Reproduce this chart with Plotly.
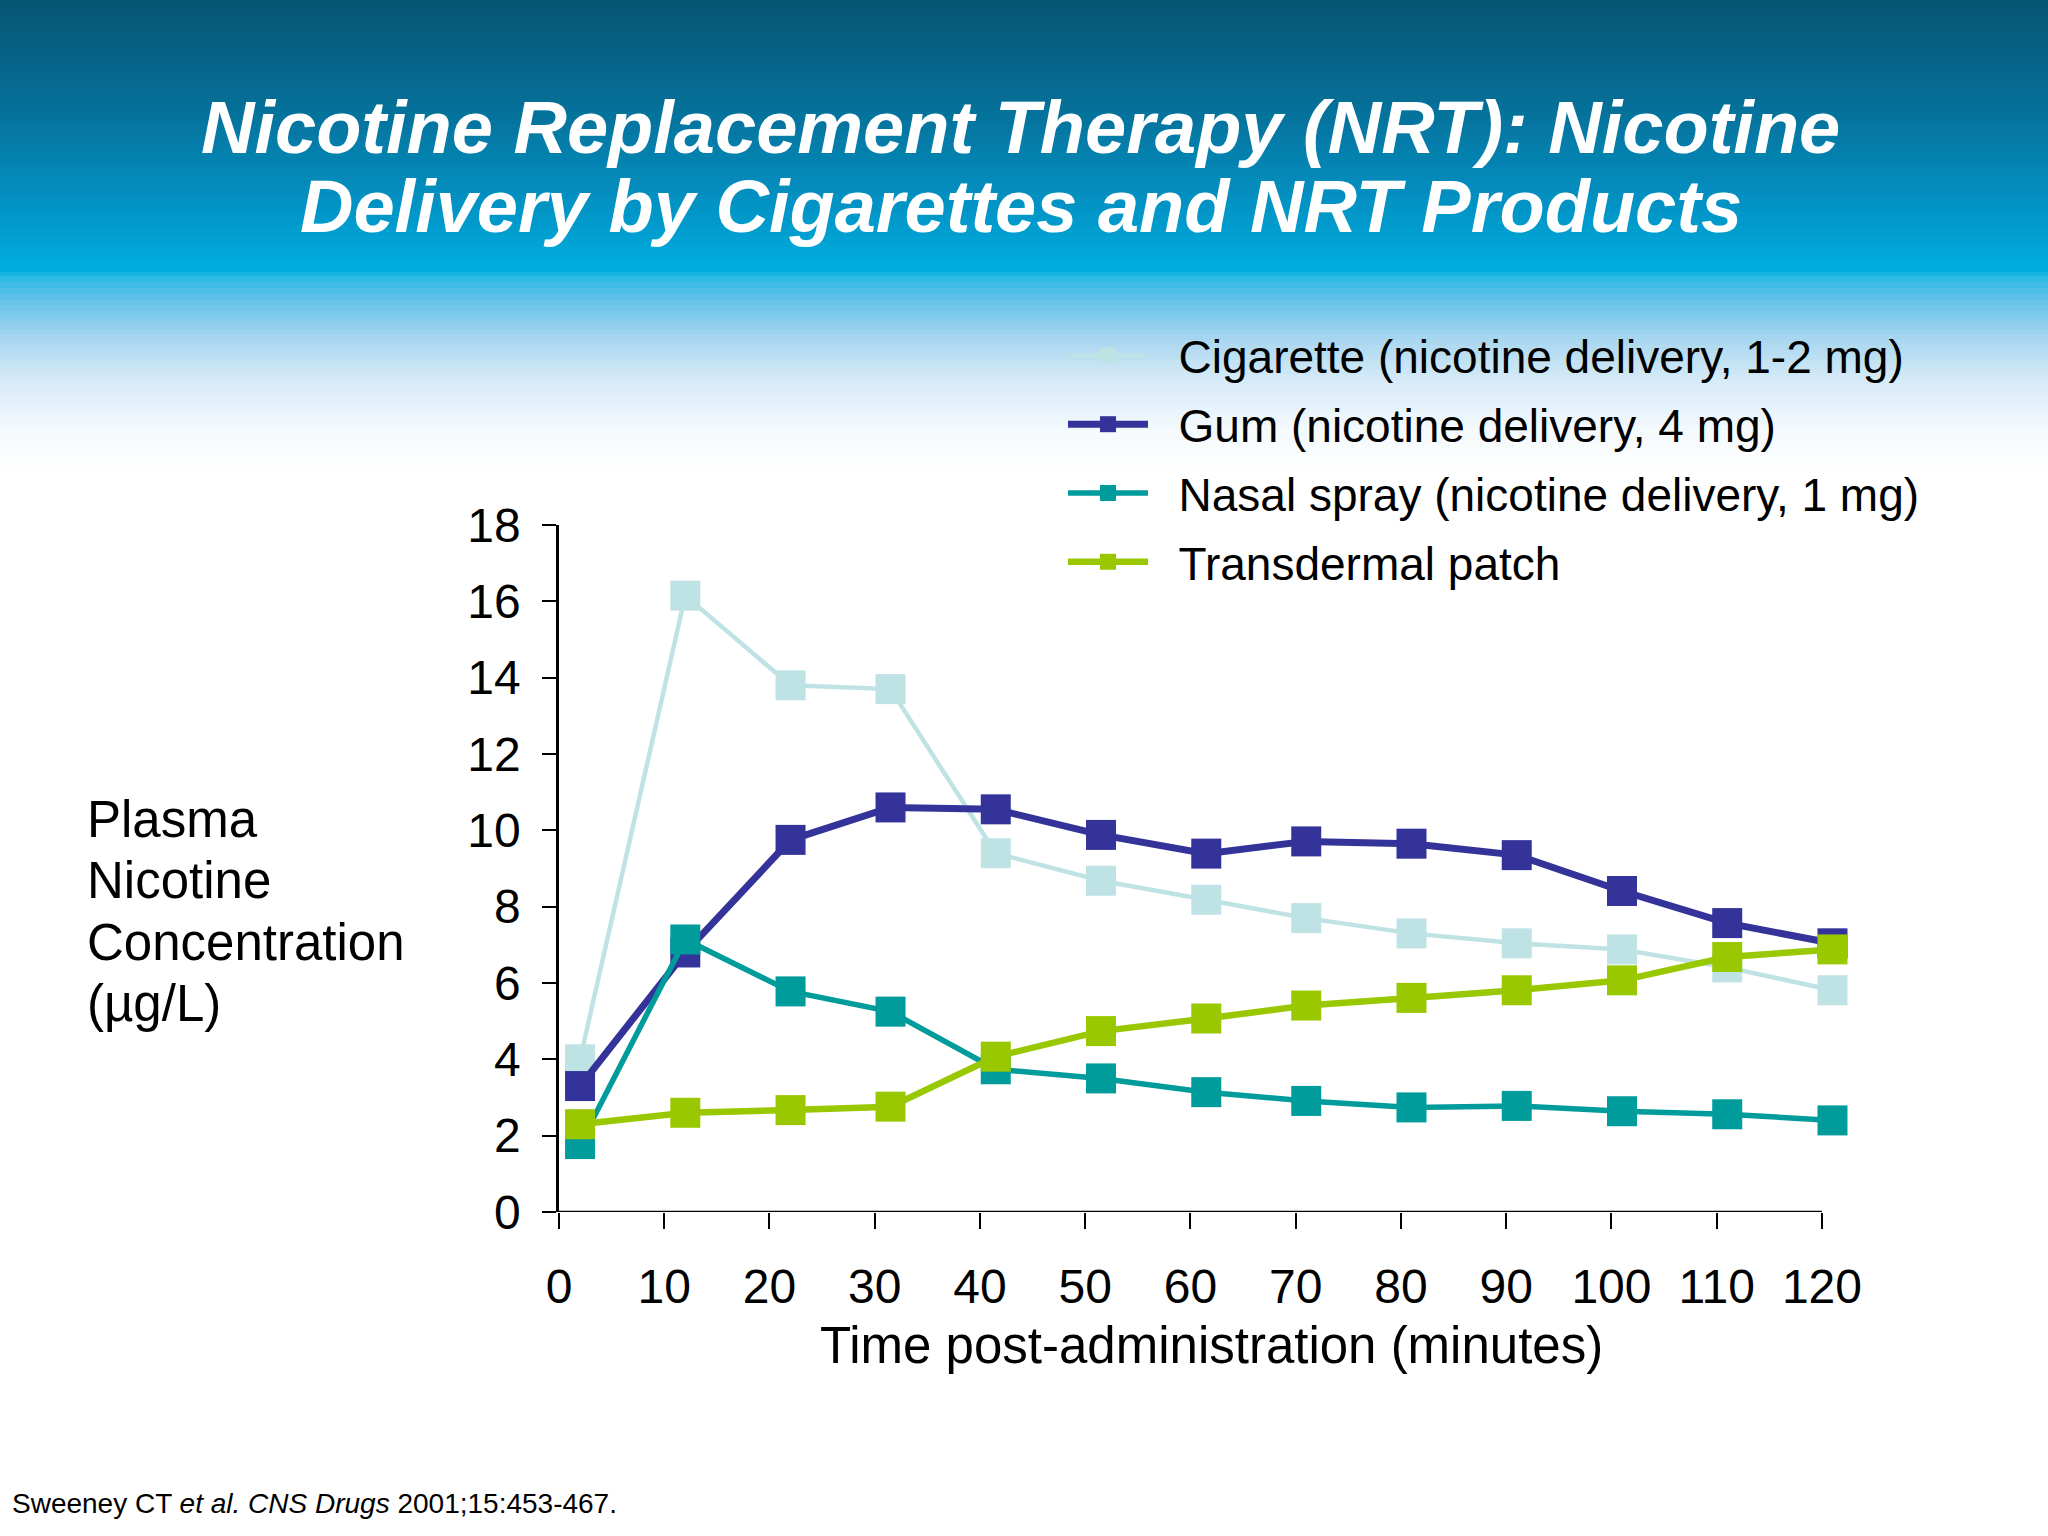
import plotly.graph_objects as go

# time points (minutes)
time_min = [2, 12, 22, 31.5, 41.5, 51.5, 61.5, 71, 81, 91, 101, 111, 121]

cigarette = [4.0, 16.15, 13.8, 13.7, 9.4, 8.68, 8.18, 7.7, 7.3, 7.04, 6.88, 6.41, 5.81]
gum = [3.3, 6.8, 9.75, 10.6, 10.55, 9.88, 9.39, 9.71, 9.65, 9.35, 8.41, 7.57, 7.04]
nasal_spray = [1.78, 7.14, 5.78, 5.25, 3.74, 3.5, 3.14, 2.91, 2.74, 2.78, 2.64, 2.56, 2.4]
patch = [2.3, 2.6, 2.67, 2.76, 4.07, 4.74, 5.07, 5.41, 5.61, 5.81, 6.07, 6.68, 6.88]

series_names = [
    "Cigarette (nicotine delivery, 1-2 mg)",
    "Gum (nicotine delivery, 4 mg)",
    "Nasal spray (nicotine delivery, 1 mg)",
    "Transdermal patch",
]
series_values = [cigarette, gum, nasal_spray, patch]
series_colors = ["#bfe2e5", "#343399", "#009b9b", "#99c800"]
line_widths = [4.5, 7, 5.5, 6.5]

x_ticks = list(range(0, 121, 10))
y_ticks = list(range(0, 19, 2))
title_lines = ["Nicotine Replacement Therapy (NRT): Nicotine",
               "Delivery by Cigarettes and NRT Products"]
ylabel_lines = ["Plasma", "Nicotine", "Concentration", "(µg/L)"]

W, H = 2048, 1536
FONT = "Liberation Sans, Arial, sans-serif"
X_MAX = 122  # a bit past 120 so the last markers are not hidden

# plot area in pixels (x=0 -> L, x=120 -> X120; y=0 -> B, y=18 -> T)
L, X120, T, B = 559, 1822, 525, 1212
R = L + (X120 - L) * X_MAX / 120.0


def py(ypx):
    return (B - ypx) / (B - T)


def px(xpx):
    return (xpx - L) / (R - L)


fig = go.Figure()

for name, vals, col, lw in zip(series_names, series_values, series_colors, line_widths):
    fig.add_trace(go.Scatter(
        x=time_min, y=vals, name="\u00a0\u00a0" + name, mode="lines+markers",
        line=dict(color=col, width=lw),
        marker=dict(symbol="square", size=30, color=col),
        cliponaxis=False, legendgroup=name,
    ))

# header gradient (slide background), built from thin bands
stops = [
    (0, (6, 85, 115)), (100, (6, 110, 150)), (200, (4, 145, 195)),
    (272, (0, 175, 225)), (276, (40, 185, 230)), (300, (100, 195, 235)),
    (340, (170, 215, 240)), (380, (215, 235, 248)), (430, (245, 250, 253)),
    (470, (255, 255, 255)),
]
shapes = []
for (y0, c0), (y1, c1) in zip(stops[:-1], stops[1:]):
    n = max(1, int((y1 - y0) / 5))
    for i in range(n):
        t = (i + 0.5) / n
        c = tuple(int(c0[k] + (c1[k] - c0[k]) * t) for k in range(3))
        ya = y0 + (y1 - y0) * i / n
        yb = y0 + (y1 - y0) * (i + 1) / n + 0.8
        if ya == 0:
            ya = -10
        shapes.append(dict(
            type="rect", xref="paper", yref="paper", layer="below",
            x0=px(-10), x1=px(W + 10), y0=py(yb), y1=py(ya),
            fillcolor="rgb(%d,%d,%d)" % c, line=dict(width=0),
        ))

# x axis line stops at the 120 tick
shapes.append(dict(type="line", xref="x", yref="y", x0=0, x1=120, y0=0, y1=0,
                   line=dict(color="black", width=2.5), layer="above"))

annotations = []
for i, line in enumerate(title_lines):
    annotations.append(dict(
        text="<b><i>%s</i></b>" % line, xref="paper", yref="paper",
        x=px(1021), y=py(128 + 78 * i), xanchor="center", yanchor="middle",
        showarrow=False, font=dict(family=FONT, size=74, color="white")))
for i, line in enumerate(ylabel_lines):
    annotations.append(dict(
        text=line, xref="paper", yref="paper",
        x=px(85), y=py(819 + 61.5 * i), xanchor="left", yanchor="middle",
        showarrow=False, font=dict(family=FONT, size=51, color="black")))
annotations.append(dict(
    text="Time post-administration (minutes)", xref="paper", yref="paper",
    x=px(1212), y=py(1345), xanchor="center", yanchor="middle", showarrow=False,
    font=dict(family=FONT, size=51, color="black")))
annotations.append(dict(
    text="Sweeney CT <i>et al. CNS Drugs</i> 2001;15:453-467.", xref="paper", yref="paper",
    x=px(10), y=py(1503), xanchor="left", yanchor="middle", showarrow=False,
    font=dict(family=FONT, size=28, color="black")))

fig.update_layout(
    width=W, height=H,
    margin=dict(l=L, r=W - R, t=T, b=H - B, pad=0),
    paper_bgcolor="white", plot_bgcolor="rgba(0,0,0,0)",
    font=dict(family=FONT, color="black"),
    shapes=shapes, annotations=annotations,
    showlegend=True,
    legend=dict(
        x=px(1063), y=py(319), xanchor="left", yanchor="top",
        bgcolor="rgba(0,0,0,0)", font=dict(family=FONT, size=46, color="black"),
        itemwidth=80, tracegroupgap=6,
    ),
)

fig.update_xaxes(
    range=[0, X_MAX], tickvals=x_ticks, ticktext=[str(v) for v in x_ticks],
    showgrid=False, zeroline=False, showline=False,
    ticks="outside", ticklen=16, tickwidth=2, tickcolor="black",
    tickfont=dict(family=FONT, size=48, color="black"), ticklabelstandoff=16,
)
fig.update_yaxes(
    range=[0, 18], tickvals=y_ticks,
    showgrid=False, zeroline=False, showline=True, linecolor="black", linewidth=2.5,
    ticks="outside", ticklen=14, tickwidth=2, tickcolor="black",
    tickfont=dict(family=FONT, size=48, color="black"), ticklabelstandoff=12,
)

fig.write_html("out.html", config={"displayModeBar": False},
               post_script="document.body.style.margin='0';")
